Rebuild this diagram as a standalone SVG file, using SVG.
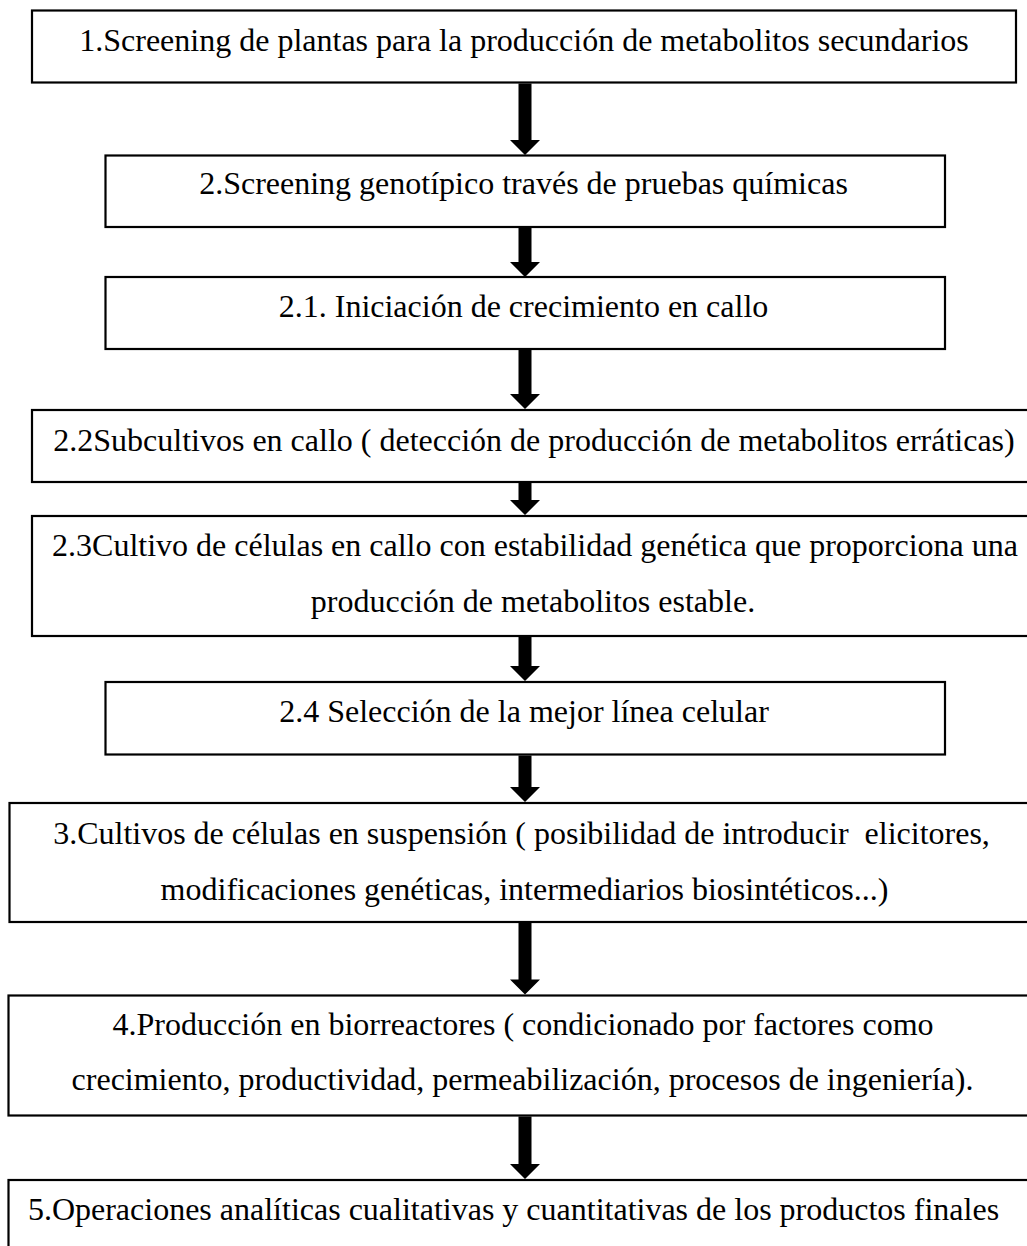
<svg xmlns="http://www.w3.org/2000/svg" width="1027" height="1246" viewBox="0 0 1027 1246">
<style>
.box{fill:#fff;stroke:#000;stroke-width:2.2}
.t{font-family:"Liberation Serif","Times New Roman",serif;font-size:32px;fill:#000;text-anchor:middle;white-space:pre}
.arr{fill:#000}
</style>
<rect width="1027" height="1246" fill="#fff"/>
<g id="n1"><rect class="box" x="32" y="10.5" width="984" height="72"/><text class="t" x="524" y="51">1.Screening de plantas para la producción de metabolitos secundarios</text></g>
<g id="n2"><rect class="box" x="105.5" y="155.5" width="839.5" height="71.5"/><text class="t" x="523.5" y="194">2.Screening genotípico través de pruebas químicas</text></g>
<g id="n21"><rect class="box" x="105.5" y="277" width="839.5" height="72"/><text class="t" x="523.5" y="317">2.1. Iniciación de crecimiento en callo</text></g>
<g id="n22"><rect class="box" x="32" y="410" width="1010" height="72"/><text class="t" x="534" y="451">2.2Subcultivos en callo ( detección de producción de metabolitos erráticas)</text></g>
<g id="n23"><rect class="box" x="32" y="516" width="1010" height="120"/><text class="t" x="535" y="556">2.3Cultivo de células en callo con estabilidad genética que proporciona una</text><text class="t" x="533" y="612">producción de metabolitos estable.</text></g>
<g id="n24"><rect class="box" x="105.5" y="682" width="839.5" height="72.5"/><text class="t" x="524" y="722">2.4 Selección de la mejor línea celular</text></g>
<g id="n3"><rect class="box" x="9.5" y="803" width="1030" height="119"/><text class="t" x="521.5" y="844">3.Cultivos de células en suspensión ( posibilidad de introducir  elicitores,</text><text class="t" x="524.5" y="900">modificaciones genéticas, intermediarios biosintéticos...)</text></g>
<g id="n4"><rect class="box" x="8.5" y="995.5" width="1030" height="120"/><text class="t" x="523" y="1035">4.Producción en biorreactores ( condicionado por factores como</text><text class="t" x="522.5" y="1090">crecimiento, productividad, permeabilización, procesos de ingeniería).</text></g>
<g id="n5"><rect class="box" x="8.5" y="1180" width="1030" height="90"/><text class="t" x="513.5" y="1220">5.Operaciones analíticas cualitativas y cuantitativas de los productos finales</text></g>
<g id="connectors">
<path class="arr" d="M518.5,83.5 H531.5 V140 H540 L525,155 L510,140 H518.5 Z"/>
<path class="arr" d="M518.5,228 H531.5 V262 H540 L525,277 L510,262 H518.5 Z"/>
<path class="arr" d="M518.5,350 H531.5 V394 H540 L525,409 L510,394 H518.5 Z"/>
<path class="arr" d="M518.5,483 H531.5 V500 H540 L525,515 L510,500 H518.5 Z"/>
<path class="arr" d="M518.5,637 H531.5 V666 H540 L525,681 L510,666 H518.5 Z"/>
<path class="arr" d="M518.5,755.5 H531.5 V787 H540 L525,802 L510,787 H518.5 Z"/>
<path class="arr" d="M518.5,923 H531.5 V979.5 H540 L525,994.5 L510,979.5 H518.5 Z"/>
<path class="arr" d="M518.5,1116.5 H531.5 V1164 H540 L525,1179 L510,1164 H518.5 Z"/>
</g>
</svg>
